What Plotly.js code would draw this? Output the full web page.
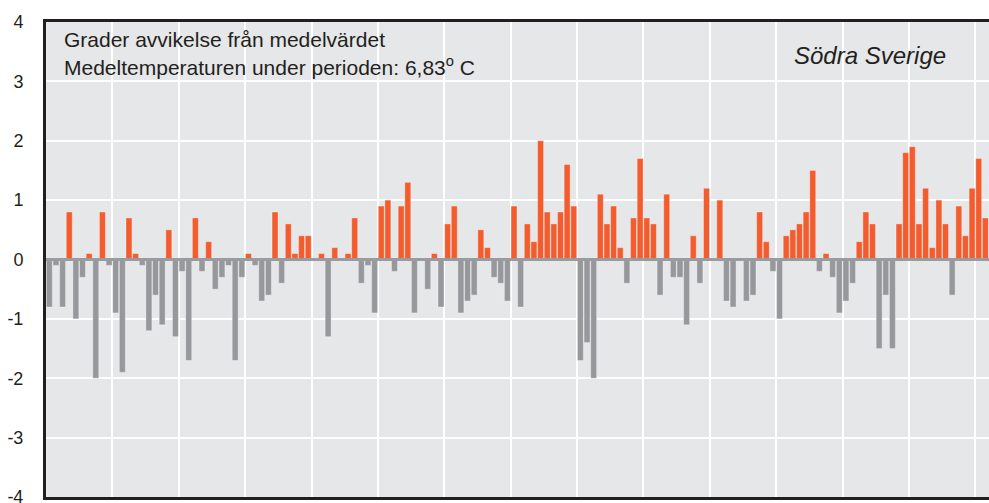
<!DOCTYPE html>
<html>
<head>
<meta charset="utf-8">
<script src="https://cdn.plot.ly/plotly-3.0.1.min.js"></script>
<style>
  html, body { margin: 0; padding: 0; background: #fff; }
  #chart { width: 989px; height: 503px; }
</style>
</head>
<body>
<div id="chart"></div>
<script>
// years shown, one bar per year
var firstYear = 1860;
var lastYear = 2002;

// deviation from the mean (degrees C)
var deviation = [
  -0.8, -0.1, -0.8, 0.8, -1.0, -0.3, 0.1, -2.0, 0.8, -0.1,
  -0.9, -1.9, 0.7, 0.1, -0.1, -1.2, -0.6, -1.1, 0.5, -1.3,
  -0.2, -1.7, 0.7, -0.2, 0.3, -0.5, -0.3, -0.1, -1.7, -0.3,
  0.1, -0.1, -0.7, -0.6, 0.8, -0.4, 0.6, 0.1, 0.4, 0.4,
  0.0, 0.1, -1.3, 0.2, 0.0, 0.1, 0.7, -0.4, -0.1, -0.9,
  0.9, 1.0, -0.2, 0.9, 1.3, -0.9, 0.0, -0.5, 0.1, -0.8,
  0.6, 0.9, -0.9, -0.7, -0.6, 0.5, 0.2, -0.3, -0.4, -0.7,
  0.9, -0.8, 0.6, 0.3, 2.0, 0.8, 0.6, 0.8, 1.6, 0.9,
  -1.7, -1.4, -2.0, 1.1, 0.6, 0.9, 0.2, -0.4, 0.7, 1.7,
  0.7, 0.6, -0.6, 1.1, -0.3, -0.3, -1.1, 0.4, -0.4, 1.2,
  0.02, 1.0, -0.7, -0.8, 0.02, -0.7, -0.6, 0.8, 0.3, -0.2,
  -1.0, 0.4, 0.5, 0.6, 0.8, 1.5, -0.2, 0.1, -0.3, -0.9,
  -0.7, -0.4, 0.3, 0.8, 0.6, -1.5, -0.6, -1.5, 0.6, 1.8,
  1.9, 0.6, 1.2, 0.2, 1.0, 0.6, -0.6, 0.9, 0.4, 1.2,
  1.7, 0.7, 1.4
];

var yTicks = [-4, -3, -2, -1, 0, 1, 2, 3, 4];
var yTickText = ['-4', '-3', '-2', '-1', '0', '1', '2', '3', '4'];

var textLine1 = 'Grader avvikelse från medelvärdet';
var textLine2 = 'Medeltemperaturen under perioden: 6,83<sup>o</sup> C';
var regionName = 'Södra Sverige';

var warm = '#f25c2e';
var cold = '#97989c';

var years = [];
for (var y = firstYear; y <= lastYear; y++) years.push(y);

var colors = deviation.map(function (v) { return v >= 0 ? warm : cold; });

var trace = {
  type: 'bar',
  x: years,
  y: deviation,
  marker: {
    color: colors,
    line: { color: 'rgba(255,255,255,0.35)', width: 1 }
  },
  hoverinfo: 'x+y'
};

var font = 'Liberation Sans, Arial, Helvetica, sans-serif';

var layout = {
  width: 989,
  height: 503,
  margin: { l: 46, r: 0, t: 22, b: 6 },
  paper_bgcolor: '#ffffff',
  plot_bgcolor: '#e6e7e8',
  bargap: 0.1,
  showlegend: false,
  font: { family: font, color: '#231f20' },
  xaxis: {
    range: [firstYear - 0.5, firstYear - 0.5 + 142.05],
    tick0: firstYear - 0.5,
    dtick: 10,
    showticklabels: false,
    ticks: '',
    showgrid: true,
    gridcolor: '#ffffff',
    gridwidth: 2,
    zeroline: false,
    showline: true,
    mirror: true,
    linecolor: '#231f20',
    linewidth: 3
  },
  yaxis: {
    range: [-4, 4],
    tickvals: yTicks,
    ticktext: yTickText,
    ticks: '',
    ticklabelstandoff: 16,
    ticklabeloverflow: 'allow',
    tickfont: { family: font, size: 18, color: '#231f20' },
    showgrid: true,
    gridcolor: '#ffffff',
    gridwidth: 2,
    zeroline: false,
    showline: true,
    linecolor: '#231f20',
    linewidth: 3
  },
  shapes: [
    {
      type: 'rect', layer: 'between',
      xref: 'paper', yref: 'y',
      x0: 0, x1: 0.48, y0: 3.03, y1: 4,
      fillcolor: '#e6e7e8', line: { width: 0 }
    },
    {
      type: 'line', layer: 'above',
      xref: 'paper', yref: 'y',
      x0: 0, x1: 1, y0: 0, y1: 0,
      line: { color: '#9a9b9f', width: 3 }
    }
  ],
  annotations: [
    {
      text: textLine1, xref: 'paper', yref: 'y',
      x: 0, y: 3.70, xanchor: 'left', yanchor: 'middle', xshift: 16,
      showarrow: false, font: { family: font, size: 21, color: '#231f20' }
    },
    {
      text: textLine2, xref: 'paper', yref: 'y',
      x: 0, y: 3.26, xanchor: 'left', yanchor: 'middle', xshift: 16,
      showarrow: false, font: { family: font, size: 21, color: '#231f20' }
    },
    {
      text: '<i>' + regionName + '</i>', xref: 'paper', yref: 'y',
      x: 0.957, y: 3.44, xanchor: 'right', yanchor: 'middle',
      showarrow: false, font: { family: font, size: 24, color: '#231f20' }
    }
  ]
};

Plotly.newPlot('chart', [trace], layout, { displayModeBar: false, responsive: false });
</script>
</body>
</html>
